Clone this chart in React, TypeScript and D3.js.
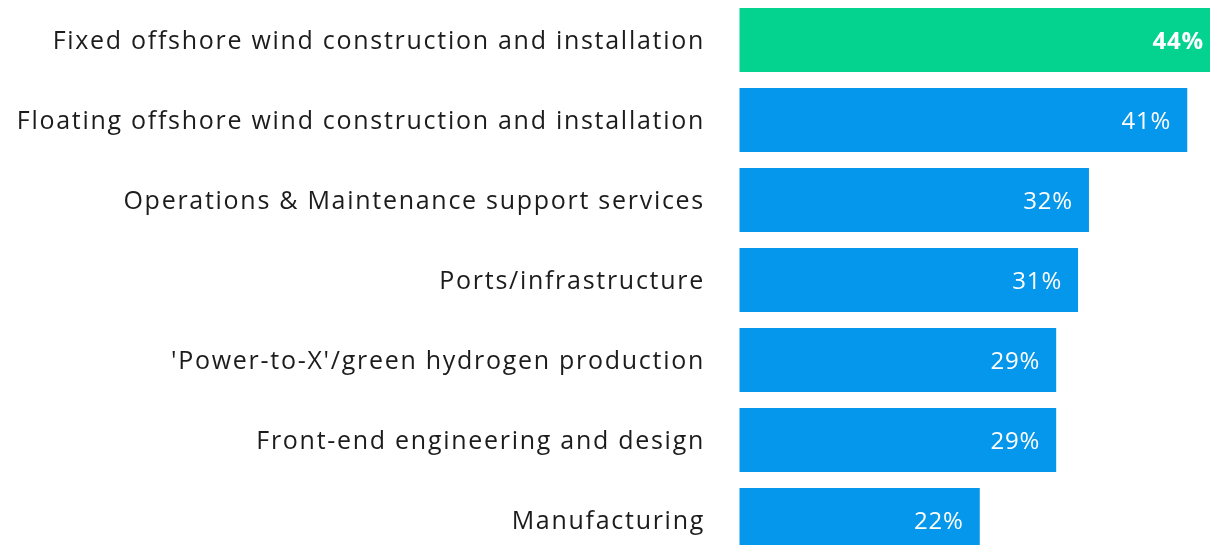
import React from "react";
import * as d3 from "d3";

const categories = [
  "Fixed offshore wind construction and installation",
  "Floating offshore wind construction and installation",
  "Operations & Maintenance support services",
  "Ports/infrastructure",
  "'Power-to-X'/green hydrogen production",
  "Front-end engineering and design",
  "Manufacturing",
];
const values = [44, 41, 32, 31, 29, 29, 22];
const highlighted = [true, false, false, false, false, false, false];

const W = 1210;
const H = 545;

export default function App() {
  const y = d3
    .scaleBand<string>()
    .domain(categories)
    .range([0, 560])
    .paddingInner(0.2)
    .paddingOuter(0.1);
  const x = d3.scaleLinear().domain([0, 44]).range([739.5, 1220]);
  const labelX = 705;
  return (
    <svg
      width={W}
      height={H}
      style={{ position: "fixed", left: 0, top: 0, overflow: "hidden" }}
      fontFamily="'Open Sans', 'Noto Sans', sans-serif"
    >
      {categories.map((c, i) => {
        const y0 = y(c)!;
        const bw = y.bandwidth();
        const cy = y0 + bw / 2;
        return (
          <g key={c}>
            <text
              x={labelX}
              y={cy}
              dy="0.36em"
              textAnchor="end"
              fontSize={25}
              letterSpacing={1.72}
              fill="#1c1c1c"
            >
              {c}
            </text>
            <rect
              x={x(0)}
              y={y0}
              width={x(values[i]) - x(0)}
              height={bw}
              fill={highlighted[i] ? "#03D38E" : "#0497EB"}
            />
            <text
              x={x(values[i]) - 16}
              y={cy}
              dy="0.36em"
              textAnchor="end"
              fontSize={24}
              letterSpacing={0.8}
              fontWeight={highlighted[i] ? 700 : 400}
              fill="#ffffff"
            >
              {values[i]}%
            </text>
          </g>
        );
      })}
    </svg>
  );
}
